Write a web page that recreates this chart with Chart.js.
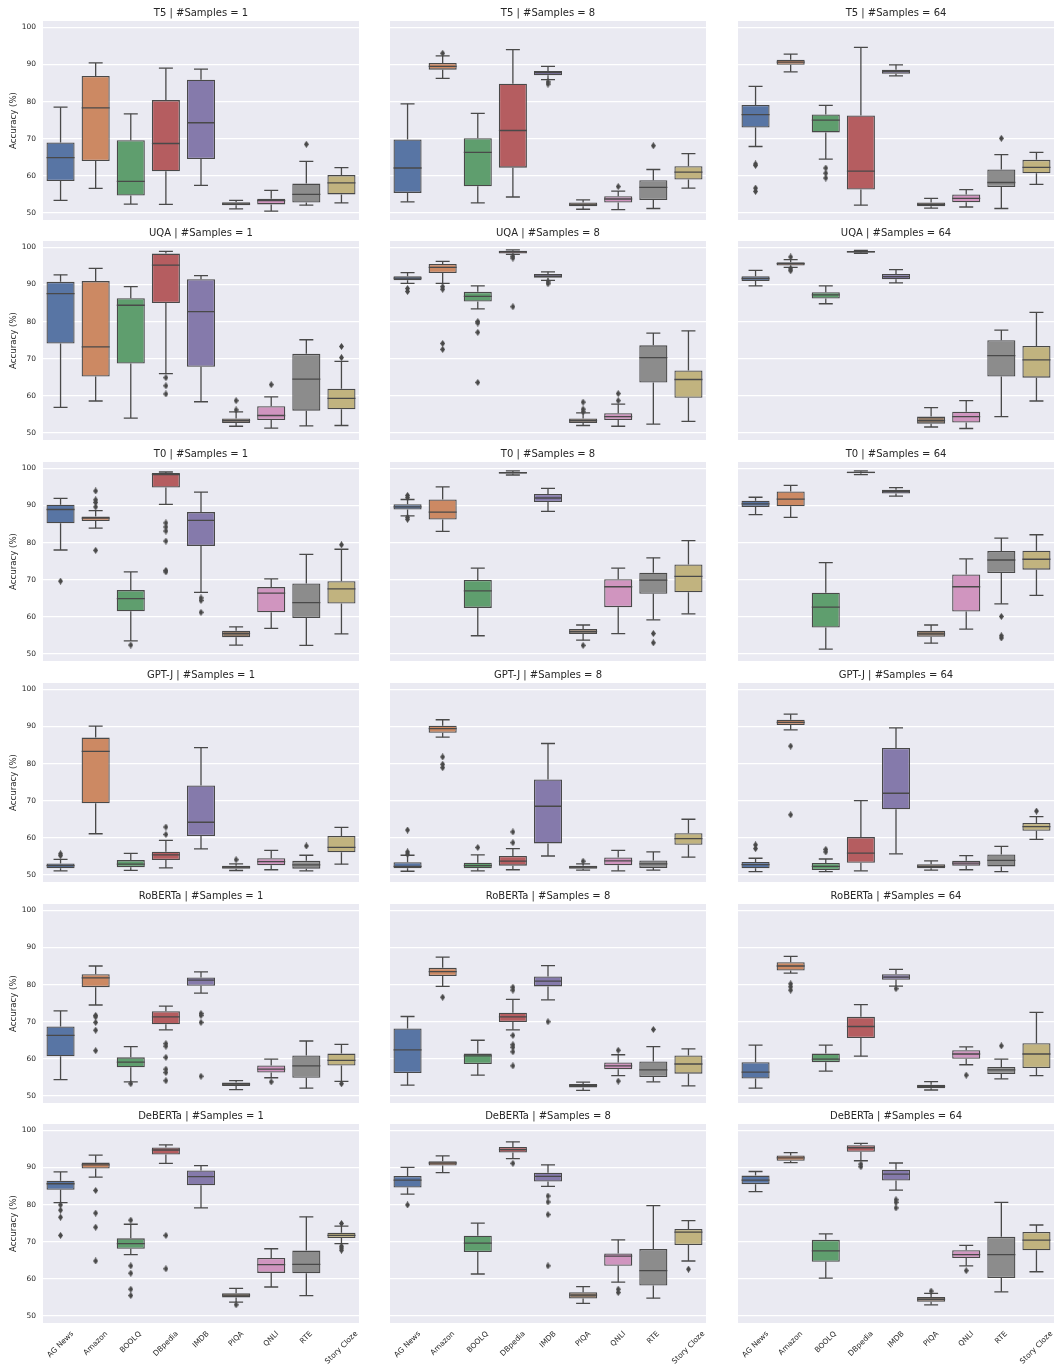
<!DOCTYPE html>
<html>
<head>
<meta charset="utf-8">
<script src="https://cdn.jsdelivr.net/npm/chart.js@4.4.1/dist/chart.umd.min.js"></script>
<style>
  html, body { margin: 0; padding: 0; background: #ffffff; }
  body { width: 1055px; height: 1370px; position: relative; overflow: hidden; }
  .panel { position: absolute; }
  .panel canvas { display: block; }
</style>
</head>
<body>
<script>
// ---- categories and facets ----
const TASKS = ['AG News', 'Amazon', 'BOOLQ', 'DBpedia', 'IMDB', 'PIQA', 'QNLI', 'RTE', 'Story Cloze'];
const MODELS = ['T5', 'UQA', 'T0', 'GPT-J', 'RoBERTa', 'DeBERTa'];
const SAMPLES = [1, 8, 64];
const Y_TICKS = [50, 60, 70, 80, 90, 100];

// ---- box statistics per task: [lower whisker, Q1, median, Q3, upper whisker, [outliers]] ----
const T5_S1 = [
  [53.4, 58.6, 64.9, 69.0, 78.5, []],
  [56.6, 64.0, 78.3, 86.9, 90.4, []],
  [52.4, 54.7, 58.5, 69.6, 76.7, []],
  [52.3, 61.2, 68.7, 80.4, 89.0, []],
  [57.4, 64.5, 74.3, 85.9, 88.75, []],
  [51.1, 52.1, 52.4, 52.9, 53.4, []],
  [50.5, 52.3, 53.3, 53.8, 56.1, []],
  [52.1, 52.8, 55.0, 57.9, 63.9, [68.5]],
  [52.7, 55.0, 58.1, 60.2, 62.2, []]
];
const T5_S8 = [
  [53.0, 55.4, 62.1, 69.8, 79.4, []],
  [86.25, 88.6, 89.5, 90.4, 92.3, [93.0]],
  [52.7, 57.2, 66.3, 70.1, 76.8, []],
  [54.3, 62.2, 72.2, 84.8, 94.0, []],
  [85.9, 87.1, 87.8, 88.2, 89.5, [85.3, 84.7]],
  [51.0, 51.8, 52.2, 52.8, 53.5, []],
  [50.9, 52.8, 53.75, 54.5, 55.9, [57.1]],
  [51.2, 53.5, 56.9, 58.8, 61.7, [68.1]],
  [56.7, 59.0, 61.0, 62.6, 66.0, []]
];
const T5_S64 = [
  [67.9, 73.0, 76.5, 79.1, 84.1, [63.2, 62.8, 56.7, 55.8]],
  [88.0, 89.9, 90.6, 91.25, 92.8, []],
  [64.5, 71.7, 75.0, 76.5, 79.0, [62.1, 60.7, 59.4]],
  [52.1, 56.3, 61.25, 76.25, 94.6, []],
  [86.9, 87.5, 88.1, 88.6, 89.9, []],
  [51.3, 51.8, 52.3, 52.8, 53.9, []],
  [51.6, 52.9, 53.9, 55.0, 56.3, []],
  [51.2, 57.0, 58.2, 61.7, 65.7, [70.1]],
  [57.7, 60.7, 62.3, 64.3, 66.3, []]
];
const UQA_S1 = [
  [56.9, 74.1, 87.5, 90.7, 92.6, []],
  [58.6, 65.2, 73.2, 90.9, 94.3, []],
  [54.0, 68.7, 84.4, 86.3, 89.4, []],
  [66.0, 85.0, 95.2, 98.3, 98.9, [64.9, 62.7, 60.5]],
  [58.4, 67.8, 82.7, 91.4, 92.4, []],
  [51.8, 52.7, 53.3, 53.9, 55.7, [58.7, 56.2]],
  [51.3, 53.5, 54.7, 57.2, 59.7, [63.0]],
  [51.9, 56.0, 64.5, 71.3, 75.1, []],
  [52.0, 56.4, 59.3, 61.9, 69.3, [73.3, 70.3]]
];
const UQA_S8 = [
  [90.3, 91.1, 91.7, 92.2, 93.2, [88.9, 88.1]],
  [90.3, 93.1, 94.6, 95.5, 96.2, [89.4, 88.7, 74.1, 72.5]],
  [83.4, 85.4, 86.8, 88.0, 89.6, [80.0, 79.6, 77.1, 63.6]],
  [98.1, 98.3, 98.75, 99.1, 99.3, [97.6, 97.1, 84.0]],
  [91.1, 91.8, 92.2, 92.8, 93.4, [90.7, 90.2]],
  [52.0, 52.7, 53.3, 53.9, 55.4, [58.3, 56.4, 55.7]],
  [51.8, 53.5, 54.4, 55.3, 57.75, [60.6, 58.7]],
  [52.4, 63.6, 70.3, 73.6, 76.9, []],
  [53.1, 59.5, 64.4, 66.8, 77.5, []]
];
const UQA_S64 = [
  [89.6, 90.9, 91.6, 92.2, 93.8, []],
  [94.6, 95.1, 95.6, 96.0, 96.7, [97.4, 94.2, 93.7]],
  [84.8, 86.2, 87.2, 87.9, 89.6, []],
  [98.4, 98.6, 98.8, 99.0, 99.2, []],
  [90.4, 91.4, 92.1, 92.8, 94.0, []],
  [51.6, 52.5, 53.3, 54.4, 56.8, []],
  [51.2, 52.8, 54.4, 55.7, 58.7, []],
  [54.4, 65.2, 70.8, 75.0, 77.7, []],
  [58.6, 64.9, 69.7, 73.4, 82.5, []]
];
const T0_S1 = [
  [78.0, 85.2, 88.9, 90.2, 91.9, [69.6]],
  [83.9, 85.8, 86.6, 87.0, 88.6, [93.9, 91.5, 90.8, 89.6, 77.9]],
  [53.5, 61.5, 64.9, 67.2, 72.1, [52.4]],
  [90.3, 94.8, 98.3, 98.75, 99.0, [85.3, 84.2, 83.1, 80.4, 72.5, 72.1]],
  [66.6, 79.1, 86.0, 88.2, 93.6, [65.1, 64.4, 61.2]],
  [52.4, 54.5, 55.5, 56.25, 57.3, []],
  [56.9, 61.25, 66.4, 68.0, 70.2, []],
  [52.3, 59.7, 63.8, 69.0, 76.8, []],
  [55.4, 63.6, 67.5, 69.6, 78.2, [79.4]]
];
const T0_S8 = [
  [87.2, 88.9, 89.6, 90.3, 91.6, [92.7, 92.1, 86.8, 86.25]],
  [83.0, 86.2, 88.2, 91.6, 95.0, []],
  [54.9, 62.4, 67.0, 69.9, 73.1, []],
  [98.2, 98.6, 98.8, 99.0, 99.3, []],
  [88.4, 90.9, 92.0, 93.1, 94.6, []],
  [53.7, 55.4, 56.0, 56.7, 57.8, [52.3]],
  [55.5, 62.6, 68.1, 70.1, 73.1, []],
  [59.2, 66.2, 69.9, 71.9, 75.9, [55.5, 53.0]],
  [60.8, 66.6, 70.9, 74.1, 80.5, []]
];
const T0_S64 = [
  [87.5, 89.6, 90.4, 91.25, 92.2, []],
  [86.8, 89.8, 91.7, 93.75, 95.4, []],
  [51.3, 57.1, 62.6, 66.5, 74.6, []],
  [98.3, 98.7, 98.9, 99.1, 99.3, []],
  [92.5, 93.2, 93.7, 94.2, 94.8, []],
  [52.9, 54.6, 55.4, 56.25, 57.8, []],
  [56.7, 61.4, 68.1, 71.4, 75.6, []],
  [63.5, 71.8, 75.3, 77.7, 81.2, [60.1, 54.9, 54.3]],
  [65.8, 72.7, 75.5, 77.8, 82.1, []]
];
const GPTJ_S1 = [
  [51.1, 51.8, 52.5, 53.1, 54.2, [55.7, 55.2]],
  [61.1, 69.3, 83.3, 87.0, 90.1, []],
  [51.25, 52.1, 52.9, 54.0, 55.8, []],
  [51.9, 54.0, 55.4, 56.25, 59.3, [62.9, 60.9]],
  [57.0, 60.5, 64.2, 74.1, 84.3, []],
  [51.2, 51.7, 52.1, 52.5, 53.0, [54.1]],
  [51.4, 52.6, 53.6, 54.5, 56.6, []],
  [51.1, 51.7, 52.7, 53.8, 55.3, [57.8]],
  [52.9, 56.1, 57.4, 60.5, 62.8, []]
];
const GPTJ_S8 = [
  [51.0, 51.8, 52.3, 53.4, 55.3, [62.1, 56.2, 55.6]],
  [87.1, 88.3, 89.4, 90.2, 91.8, [81.8, 79.8, 78.9]],
  [51.1, 51.8, 52.5, 53.3, 55.4, [57.4]],
  [51.4, 52.5, 53.7, 55.1, 57.1, [61.6, 58.7]],
  [55.1, 58.5, 68.5, 75.7, 85.4, []],
  [51.3, 51.7, 52.1, 52.5, 53.0, [53.7]],
  [51.1, 52.6, 53.8, 54.7, 56.6, []],
  [51.3, 51.9, 53.0, 53.9, 56.2, []],
  [54.8, 58.1, 59.8, 61.25, 65.0, []]
];
const GPTJ_S64 = [
  [50.9, 51.8, 52.8, 53.5, 54.5, [58.1, 57.1]],
  [89.1, 90.4, 91.1, 91.8, 93.3, [84.7, 66.2]],
  [50.9, 51.3, 52.3, 53.2, 54.3, [56.9, 56.2]],
  [51.1, 53.3, 55.9, 60.2, 70.0, []],
  [55.7, 67.7, 72.0, 84.2, 89.6, []],
  [51.3, 51.8, 52.3, 52.9, 53.8, []],
  [51.4, 52.5, 53.2, 53.8, 55.2, []],
  [50.9, 52.3, 53.9, 55.5, 57.7, []],
  [59.6, 61.9, 63.0, 64.0, 65.7, [67.2]]
];
const ROBERTA_S1 = [
  [54.4, 60.7, 66.3, 68.7, 72.9, []],
  [74.5, 79.3, 81.8, 82.8, 85.0, [71.7, 71.3, 69.8, 67.7, 62.2]],
  [53.8, 57.7, 59.1, 60.4, 63.3, [53.3]],
  [67.8, 69.3, 71.3, 72.8, 74.2, [64.1, 63.4, 60.4, 57.2, 56.3, 54.1]],
  [77.7, 79.7, 81.2, 81.9, 83.4, [72.2, 71.7, 69.8, 55.3]],
  [51.7, 52.7, 53.2, 53.6, 54.1, []],
  [54.9, 56.3, 57.2, 58.2, 59.9, [53.8]],
  [52.1, 54.9, 58.1, 60.9, 64.8, []],
  [53.9, 58.2, 59.6, 61.4, 63.9, [53.3]]
];
const ROBERTA_S8 = [
  [52.9, 56.2, 62.4, 68.2, 71.4, []],
  [79.5, 82.3, 83.5, 84.5, 87.4, [76.6]],
  [55.6, 58.6, 60.8, 61.4, 65.0, []],
  [67.8, 69.9, 71.3, 72.4, 76.0, [79.3, 78.5, 66.3, 63.8, 63.1, 61.9, 58.1]],
  [75.9, 79.5, 80.9, 82.2, 85.1, [70.0]],
  [51.5, 52.3, 52.8, 53.2, 53.7, []],
  [55.5, 57.2, 58.1, 59.0, 61.1, [62.3, 54.0]],
  [53.8, 55.1, 57.0, 59.3, 63.3, [67.9]],
  [52.7, 56.0, 58.6, 60.9, 62.7, []]
];
const ROBERTA_S64 = [
  [52.1, 54.7, 56.4, 59.1, 63.7, []],
  [83.1, 83.8, 85.0, 86.0, 87.6, [80.2, 79.4, 78.5]],
  [56.7, 59.1, 59.9, 61.4, 63.7, []],
  [60.7, 65.6, 68.7, 71.3, 74.6, []],
  [79.6, 81.3, 82.0, 82.8, 84.1, [78.9]],
  [51.6, 52.1, 52.6, 53.0, 53.85, []],
  [58.4, 60.0, 61.3, 62.3, 63.2, [55.6]],
  [54.6, 55.9, 57.0, 57.8, 59.9, [63.5]],
  [55.5, 57.5, 61.3, 64.2, 72.5, []]
];
const DEBERTA_S1 = [
  [80.5, 84.0, 85.6, 86.4, 88.8, [79.9, 78.5, 76.6, 71.7]],
  [87.4, 89.7, 90.7, 91.3, 93.3, [83.8, 77.7, 73.9, 64.8]],
  [66.5, 68.1, 69.5, 70.9, 74.7, [75.8, 63.5, 61.5, 57.2, 55.5]],
  [91.1, 93.5, 94.7, 95.4, 96.1, [71.7, 62.7]],
  [79.1, 85.2, 87.5, 89.2, 90.5, []],
  [53.7, 55.0, 55.6, 56.1, 57.4, [53.0]],
  [57.8, 61.6, 63.8, 65.6, 68.1, []],
  [55.5, 61.5, 63.9, 67.6, 76.7, []],
  [69.5, 71.0, 71.7, 72.4, 74.2, [74.9, 68.8, 68.3, 67.7]]
];
const DEBERTA_S8 = [
  [82.8, 84.6, 86.6, 87.7, 90.0, [79.9]],
  [88.6, 90.5, 91.2, 91.7, 93.1, []],
  [61.3, 67.2, 69.6, 71.6, 75.0, []],
  [92.4, 94.0, 94.8, 95.5, 96.9, [91.1]],
  [84.9, 86.2, 87.6, 88.6, 90.7, [82.3, 80.7, 77.3, 63.5]],
  [53.4, 54.7, 55.6, 56.4, 57.9, []],
  [59.1, 63.5, 66.1, 66.8, 70.5, [57.2, 56.3]],
  [54.8, 58.2, 62.2, 68.0, 79.7, []],
  [64.8, 69.1, 72.6, 73.4, 75.7, [62.6]]
];
const DEBERTA_S64 = [
  [83.5, 85.5, 86.6, 87.8, 88.9, []],
  [91.3, 91.8, 92.6, 93.2, 94.0, []],
  [60.2, 64.6, 67.5, 70.5, 72.1, []],
  [91.8, 94.2, 95.3, 96.0, 96.5, [90.9, 90.2]],
  [83.9, 86.5, 88.2, 89.4, 91.2, [81.3, 80.6, 79.1]],
  [53.0, 53.8, 54.5, 55.1, 56.1, [56.7]],
  [63.5, 65.6, 66.5, 67.7, 69.0, [62.2]],
  [56.5, 60.2, 66.5, 71.3, 80.6, []],
  [61.9, 67.7, 70.4, 72.6, 74.5, []]
];

const PANELS = [
  [T5_S1, T5_S8, T5_S64],
  [UQA_S1, UQA_S8, UQA_S64],
  [T0_S1, T0_S8, T0_S64],
  [GPTJ_S1, GPTJ_S8, GPTJ_S64],
  [ROBERTA_S1, ROBERTA_S8, ROBERTA_S64],
  [DEBERTA_S1, DEBERTA_S8, DEBERTA_S64]
];

// ---- styling ----
const FONT = "'DejaVu Sans', sans-serif";
const TEXT = '#262626';
const LINE_GRAY = '#494949';
const PANEL_BG = '#eaeaf2';
const TASK_COLORS = ['#5875a4', '#cc8963', '#5f9e6e', '#b55d60', '#857aab',
                     '#8d7866', '#d095bf', '#8c8c8c', '#c1b37f'];
const LW = 1.3;
const Y_MIN = 48.1, Y_MAX = 101.7;

// ---- facet grid geometry (px) ----
const PLOT_LEFT = [43, 390, 738];
const PLOT_TOP = [21, 241, 462, 683, 904, 1124];
const PLOT_W = 316, PLOT_H = 199;
const TITLE_H = 20, Y_AXIS_W = 43, X_LABEL_H = 46;

// thin diamond used for outlier markers
function makeDiamond() {
  const cv = document.createElement('canvas');
  cv.width = 5; cv.height = 7;
  const g = cv.getContext('2d');
  g.fillStyle = LINE_GRAY;
  g.beginPath();
  g.moveTo(2.5, 0); g.lineTo(5, 3.5); g.lineTo(2.5, 7); g.lineTo(0, 3.5);
  g.closePath(); g.fill();
  return cv;
}
const DIAMOND = makeDiamond();

// shaded axes background
const panelBackground = {
  id: 'panelBackground',
  beforeDraw(chart) {
    const { ctx, chartArea: a } = chart;
    ctx.save();
    ctx.fillStyle = PANEL_BG;
    ctx.fillRect(a.left, a.top, a.right - a.left, a.bottom - a.top);
    ctx.restore();
  }
};

// rotated task names under the bottom row, centred on their ticks
const rotatedTaskLabels = {
  id: 'rotatedTaskLabels',
  afterDraw(chart, args, opts) {
    if (!opts.show) return;
    const { ctx, chartArea, scales: { x } } = chart;
    const size = 7.5;
    ctx.save();
    ctx.font = size + 'px ' + FONT;
    ctx.fillStyle = TEXT;
    ctx.textAlign = 'center';
    ctx.textBaseline = 'middle';
    x.getLabels().forEach((lab, i) => {
      const w = ctx.measureText(lab).width;
      const half = Math.SQRT1_2 * (w + size) / 2;
      ctx.save();
      ctx.translate(x.getPixelForValue(i), chartArea.bottom + 7 + half);
      ctx.rotate(-Math.PI / 4);
      ctx.fillText(lab, 0, 0);
      ctx.restore();
    });
    ctx.restore();
  }
};

function buildPanel(r, c) {
  const stats = PANELS[r][c];
  const axisW = c === 0 ? Y_AXIS_W : 0;
  const bottomExtra = r === MODELS.length - 1 ? X_LABEL_H : 0;
  const w = axisW + PLOT_W;
  const h = TITLE_H + PLOT_H + bottomExtra;

  const wrap = document.createElement('div');
  wrap.className = 'panel';
  wrap.style.left = (PLOT_LEFT[c] - axisW) + 'px';
  wrap.style.top = (PLOT_TOP[r] - TITLE_H) + 'px';
  wrap.style.width = w + 'px';
  wrap.style.height = h + 'px';
  const cv = document.createElement('canvas');
  cv.width = w; cv.height = h;
  wrap.appendChild(cv);
  document.body.appendChild(wrap);

  const boxes = stats.map(s => [s[1], s[3]]);
  const whiskers = [], caps = [], medians = [], fliers = [];
  stats.forEach((s, i) => {
    const t = TASKS[i];
    whiskers.push({ x: t, y: s[0] }, { x: t, y: s[1] }, { x: t, y: null },
                  { x: t, y: s[3] }, { x: t, y: s[4] }, { x: t, y: null });
    caps.push({ x: t, y: s[0] }, { x: t, y: s[4] });
    medians.push({ x: t, y: s[2] });
    s[5].forEach(v => fliers.push({ x: t, y: v }));
  });

  new Chart(cv, {
    type: 'bar',
    data: {
      labels: TASKS,
      datasets: [
        { type: 'line', data: whiskers, borderColor: LINE_GRAY, borderWidth: LW,
          pointRadius: 0, spanGaps: false, fill: false, order: 4 },
        { type: 'bar', data: boxes, backgroundColor: TASK_COLORS, borderColor: LINE_GRAY,
          borderWidth: LW, borderSkipped: false, barPercentage: 0.8,
          categoryPercentage: 1, grouped: false, order: 3 },
        { type: 'line', data: caps, showLine: false, pointStyle: 'line', pointRadius: 7,
          pointBorderWidth: LW, pointBorderColor: LINE_GRAY, order: 2 },
        { type: 'line', data: medians, showLine: false, pointStyle: 'line', pointRadius: 14,
          pointBorderWidth: LW, pointBorderColor: LINE_GRAY, order: 1 },
        { type: 'line', data: fliers, showLine: false, pointStyle: DIAMOND, pointRadius: 3,
          order: 0 }
      ]
    },
    options: {
      responsive: false,
      animation: false,
      events: [],
      layout: { autoPadding: false, padding: { left: 0, right: 0, top: 0, bottom: bottomExtra } },
      scales: {
        x: { type: 'category', offset: true, display: false, grid: { display: false } },
        y: {
          min: Y_MIN, max: Y_MAX,
          afterBuildTicks: s => { s.ticks = Y_TICKS.map(v => ({ value: v })); },
          afterFit: s => {
            s.width = axisW;
            s.paddingTop = 0; s.paddingBottom = 0;
          },
          border: { display: false },
          grid: { color: '#ffffff', lineWidth: 1.2, drawTicks: false },
          ticks: { display: c === 0, padding: 7, color: TEXT,
                   font: { family: FONT, size: 7.5 } },
          title: { display: c === 0, text: 'Accuracy (%)', color: TEXT,
                   font: { family: FONT, size: 8.6 }, padding: { top: 9, bottom: 0 } }
        }
      },
      plugins: {
        legend: { display: false },
        tooltip: { enabled: false },
        title: {
          display: true,
          text: MODELS[r] + ' | #Samples = ' + SAMPLES[c],
          color: TEXT,
          font: { family: FONT, size: 10, weight: 'normal' },
          padding: { top: 6, bottom: 2 },
          fullSize: false
        },
        rotatedTaskLabels: { show: bottomExtra > 0 }
      }
    },
    plugins: [panelBackground, rotatedTaskLabels]
  });
}

for (let r = 0; r < MODELS.length; r++) {
  for (let c = 0; c < SAMPLES.length; c++) buildPanel(r, c);
}
</script>
</body>
</html>
